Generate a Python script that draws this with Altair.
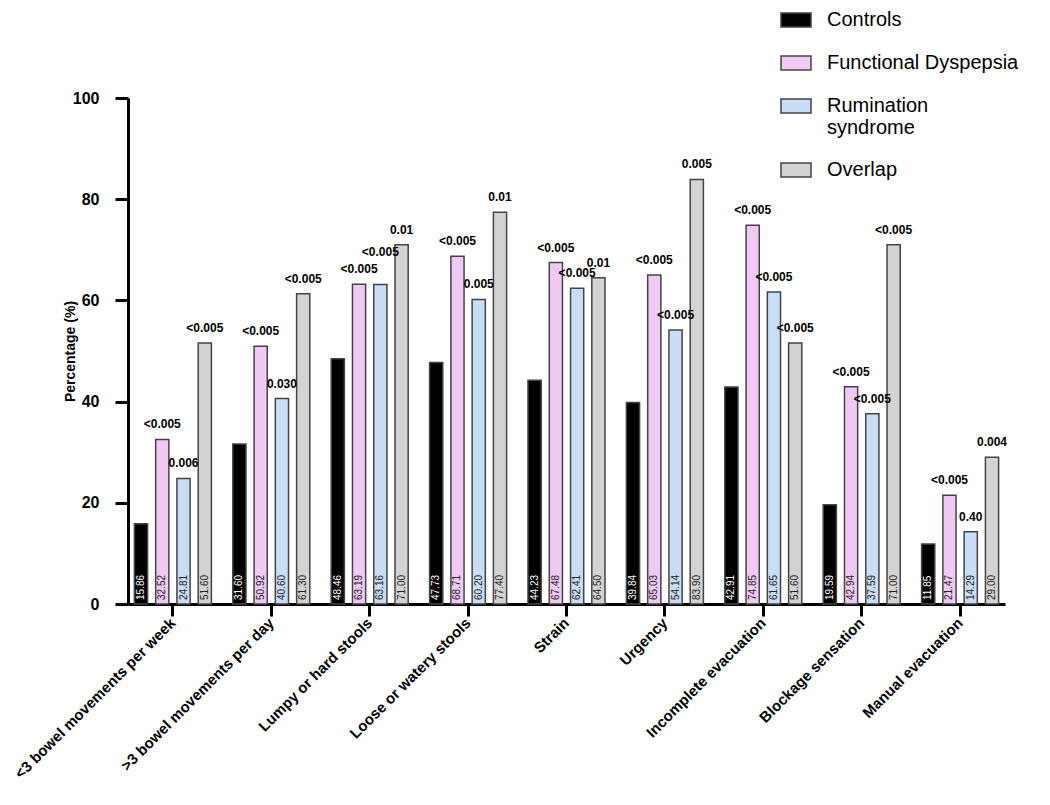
import altair as alt
import pandas as pd

FONT = "Liberation Sans"

categories = ["<3 bowel movements per week", ">3 bowel movements per day",
              "Lumpy or hard stools", "Loose or watery stools", "Strain",
              "Urgency", "Incomplete evacuation", "Blockage sensation",
              "Manual evacuation"]
groups = ["Controls", "Functional Dyspepsia", "Rumination syndrome", "Overlap"]
controls = [15.86, 31.60, 48.46, 47.73, 44.23, 39.84, 42.91, 19.59, 11.85]
fd = [32.52, 50.92, 63.19, 68.71, 67.48, 65.03, 74.85, 42.94, 21.47]
rs = [24.81, 40.60, 63.16, 60.20, 62.41, 54.14, 61.65, 37.59, 14.29]
overlap = [51.60, 61.30, 71.00, 77.40, 64.50, 83.90, 51.60, 71.00, 29.00]
p_controls = [""] * 9
p_fd = ["<0.005"] * 9
p_rs = ["0.006", "0.030", "<0.005", "0.005", "<0.005", "<0.005", "<0.005", "<0.005", "0.40"]
p_overlap = ["<0.005", "<0.005", "0.01", "0.01", "0.01", "0.005", "<0.005", "<0.005", "0.004"]
colors = ["#000000", "#F0C9F5", "#C8DDF6", "#D3D3D3"]

rows = []
for g, vals, ps in zip(groups, [controls, fd, rs, overlap], [p_controls, p_fd, p_rs, p_overlap]):
    for c, v, p in zip(categories, vals, ps):
        rows.append({"category": c, "group": g, "value": v, "p": p, "label": f"{v:.2f}"})
df = pd.DataFrame(rows)

x = alt.X("category:N", sort=categories,
          scale=alt.Scale(paddingInner=0.2175, paddingOuter=0.065),
          axis=alt.Axis(title=None, labelAngle=-45, labelAlign="right", labelBaseline="middle",
                        labelFont=FONT, labelFontSize=15, labelFontWeight="bold", labelColor="black",
                        labelPadding=4, tickSize=12, tickWidth=3, tickColor="black",
                        domainWidth=3, domainColor="black", labelLimit=400))
xo = alt.XOffset("group:N", sort=groups, scale=alt.Scale(paddingInner=0.38, paddingOuter=0))
y = alt.Y("value:Q", scale=alt.Scale(domain=[0, 100], nice=False),
          axis=alt.Axis(values=[0, 20, 40, 60, 80, 100], title="Percentage (%)",
                        titleFont=FONT, titleFontSize=14, titleFontWeight="bold", titleColor="black",
                        titleX=-58, titleY=253, titleAlign="center", titleBaseline="middle",
                        labelFont=FONT, labelFontSize=16, labelFontWeight="bold", labelColor="black",
                        labelPadding=16, tickSize=13, tickWidth=3, tickColor="black",
                        domainWidth=3, domainColor="black"))

base = alt.Chart(df)

bars = base.mark_bar(stroke="#444444", strokeWidth=1.5).encode(
    x=x, xOffset=xo, y=y,
    color=alt.Color("group:N", sort=groups,
                    scale=alt.Scale(domain=groups, range=colors),
                    legend=alt.Legend(title=None, orient="none", legendX=652, legendY=-94,
                                      symbolType="M-1,-0.47H1V0.47H-1Z", symbolSize=900,
                                      symbolStrokeColor="#444444", symbolStrokeWidth=1.5,
                                      labelFont=FONT, labelFontSize=20, labelColor="black",
                                      labelOffset=15, rowPadding=16, labelLimit=400, padding=0,
                                      labelExpr="datum.label == 'Rumination syndrome' ? ['Rumination', 'syndrome'] : datum.label"))
)

vals = base.mark_text(angle=270, align="left", baseline="middle", dx=4,
                      font=FONT, fontSize=10).encode(
    x=x, xOffset=xo, y=alt.datum(0), text="label:N",
    color=alt.condition("datum.group == 'Controls'", alt.value("white"), alt.value("#222222"))
)

# p-value labels; when a Rumination bar is nearly as tall as its Dyspepsia neighbour,
# its label is lifted so that the two labels do not collide (as in the reference)
pvals = base.transform_calculate(
    fdval="datum.group == 'Functional Dyspepsia' ? datum.value : 0"
).transform_joinaggregate(
    fdmax="max(fdval)", groupby=["category"]
).transform_calculate(
    ly="(datum.group == 'Rumination syndrome' && abs(datum.value - datum.fdmax) < 3) ? datum.value + 3.5 : datum.value"
).transform_filter("datum.group != 'Controls'").mark_text(
    align="center", baseline="bottom", dy=-8, font=FONT, fontSize=12,
    fontWeight="bold", color="black").encode(
    x=x, xOffset=xo, y=alt.Y("ly:Q"), text="p:N"
)

chart = alt.layer(bars, vals, pvals).properties(
    width=877, height=506,
    autosize=alt.AutoSizeParams(type="none"),
    padding={"left": 120, "top": 90, "right": 30, "bottom": 185},
).configure_view(stroke=None).configure_axis(grid=False)

chart.save("out.html", embed_options={"renderer": "svg", "actions": False})
